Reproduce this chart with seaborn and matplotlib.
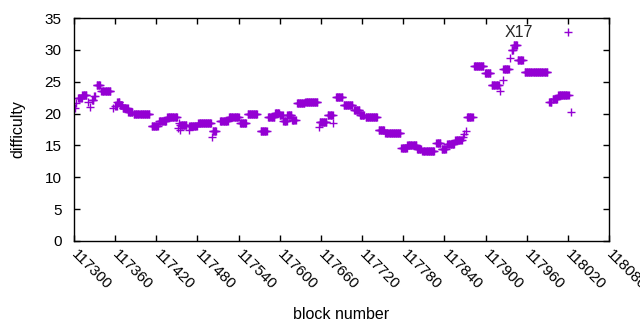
import numpy as np
import pandas as pd
import matplotlib
matplotlib.use("Agg")
import matplotlib.pyplot as plt
import seaborn as sns

# runs of constant difficulty: first block, last block, difficulty
run_start = [117302, 117303, 117306, 117312, 117321, 117323, 117326, 117329, 117333, 117340,
             117357, 117360, 117363, 117367, 117371, 117379, 117387, 117413, 117424, 117436,
             117451, 117453, 117455, 117454, 117467, 117468, 117481, 117502, 117501, 117513,
             117526, 117542, 117553, 117572, 117583, 117593, 117600, 117605, 117611, 117618,
             117625, 117637, 117658, 117657, 117670, 117678, 117682, 117693, 117708, 117717,
             117725, 117744, 117754, 117777, 117786, 117800, 117808, 117828, 117836, 117844,
             117856, 117867, 117869, 117871, 117873, 117883, 117899, 117909, 117921, 117925,
             117926, 117936, 117938, 117941, 117947, 117957, 117993, 117998, 118006, 118025]
run_end = [117302, 117303, 117311, 117318, 117321, 117323, 117328, 117330, 117338, 117353,
           117357, 117362, 117366, 117370, 117378, 117385, 117410, 117422, 117434, 117450,
           117451, 117453, 117464, 117454, 117467, 117479, 117500, 117507, 117501, 117524,
           117540, 117551, 117567, 117581, 117592, 117599, 117604, 117610, 117617, 117623,
           117636, 117655, 117668, 117657, 117677, 117678, 117691, 117706, 117716, 117723,
           117742, 117752, 117776, 117785, 117799, 117806, 117825, 117834, 117842, 117854,
           117865, 117867, 117869, 117871, 117881, 117897, 117907, 117919, 117921, 117925,
           117934, 117936, 117940, 117946, 117954, 117990, 117996, 118004, 118021, 118025]
run_diff = [20.9, 21.6, 22.5, 22.9, 21.8, 21.1, 22.2, 22.7, 24.5, 23.5,
            20.9, 21.2, 21.8, 21.3, 20.8, 20.3, 20.0, 18.0, 18.9, 19.4,
            17.7, 18.5, 18.2, 17.5, 17.5, 18.0, 18.5, 17.3, 16.4, 18.8,
            19.4, 18.5, 19.9, 17.2, 19.4, 20.1, 19.8, 18.9, 19.7, 19.0,
            21.6, 21.8, 18.6, 17.9, 19.8, 18.5, 22.6, 21.4, 20.5, 19.7,
            19.4, 17.5, 17.0, 14.6, 15.1, 14.5, 14.1, 15.4, 14.5, 15.3,
            15.8, 16.3, 16.8, 17.3, 19.5, 27.5, 26.4, 24.5, 23.6, 25.3,
            27.0, 28.7, 29.9, 30.7, 28.4, 26.6, 21.8, 22.3, 22.9, 20.3]

xtick_values = list(range(117300, 118081, 60))
ytick_values = list(range(0, 36, 5))

# one point per block
blocks, diffs = [], []
for s, e, d in zip(run_start, run_end, run_diff):
    for b in range(s, e + 1):
        blocks.append(b)
        diffs.append(d)
df = pd.DataFrame({"block": blocks, "difficulty": diffs})

sns.set_theme(style="ticks")
plt.rcParams["font.family"] = ["Liberation Sans", "DejaVu Sans"]

fig = plt.figure(figsize=(6.4, 3.3), dpi=100)
ax = fig.add_axes([74 / 640, 1 - 241 / 330, 535 / 640, 223 / 330])

sns.scatterplot(data=df, x="block", y="difficulty", marker="+", s=28,
                color="#9400d3", linewidth=1.0, ax=ax, label="X17")

ax.set_xlim(117300, 118080)
ax.set_ylim(0, 35)
ax.set_xticks(xtick_values)
ax.set_yticks(ytick_values)
ax.set_xticklabels([str(v) for v in xtick_values], rotation=-45,
                   ha="left", va="center", rotation_mode="anchor")
ax.tick_params(direction="in", length=4, width=1, top=True, right=True,
               labelsize=11, color="black", labelcolor="black")
ax.tick_params(axis="y", pad=9)
ax.tick_params(axis="x", pad=8)
for sp in ax.spines.values():
    sp.set_color("black")
    sp.set_linewidth(1)

ax.set_xlabel("block number", fontsize=11.5, color="black")
ax.set_ylabel("difficulty", fontsize=11.5, color="black")
ax.xaxis.set_label_coords(0.5, -0.33)
ax.xaxis.label.set_va("center")
ax.yaxis.set_label_coords(-0.105, 0.5)
ax.yaxis.label.set_va("center")

ax.legend(loc="center right", bbox_to_anchor=(0.938, 0.937), frameon=False,
          markerfirst=False, handlelength=1.0, handletextpad=1.7,
          borderpad=0, borderaxespad=0, fontsize=11.5, scatterpoints=1)

fig.savefig("out.png", dpi=100)
